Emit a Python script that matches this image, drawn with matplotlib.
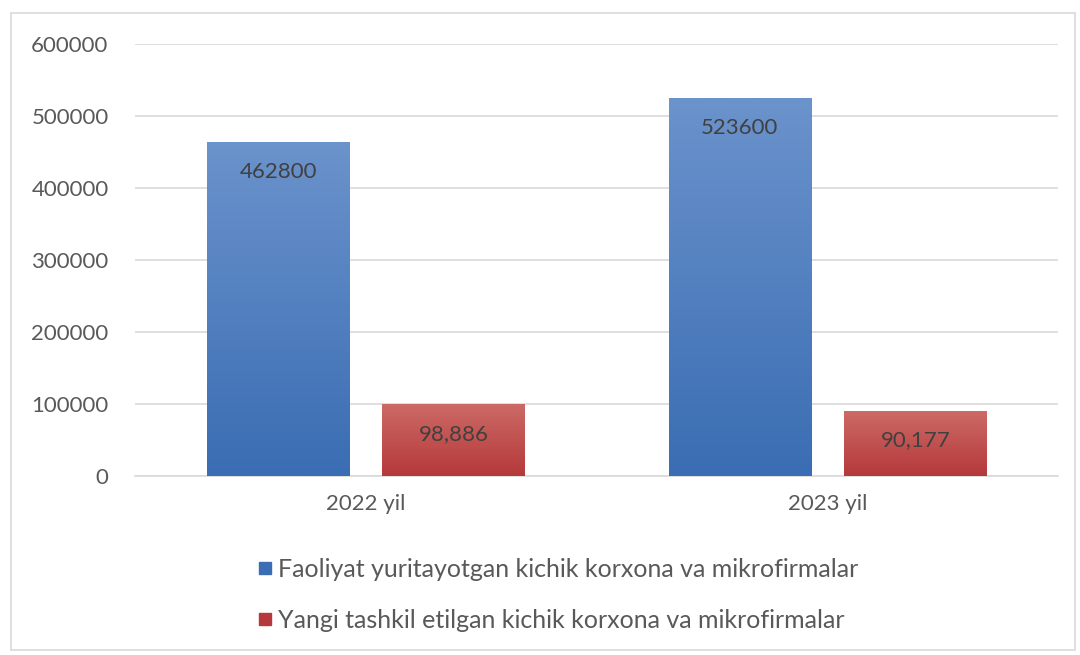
import matplotlib.pyplot as plt
import numpy as np
from matplotlib.colors import LinearSegmentedColormap
from matplotlib.lines import Line2D
from matplotlib.patches import Rectangle

categories = ["2022 yil", "2023 yil"]
series_names = [
    "Faoliyat yuritayotgan kichik korxona va mikrofirmalar",
    "Yangi tashkil etilgan kichik korxona va mikrofirmalar",
]
active_firms = [462800, 523600]
new_firms = [98886, 90177]
value_labels = [["462800", "523600"], ["98,886", "90,177"]]
y_ticks = [0, 100000, 200000, 300000, 400000, 500000, 600000]

plt.rcParams["font.family"] = ["Lato", "DejaVu Sans"]

fig = plt.figure(figsize=(10.8, 6.55), dpi=100)
ax = fig.add_axes([0.125, 0.273, 0.855, 0.66])

# outer chart frame
fig.patches.append(Rectangle((0.010, 0.008), 0.985, 0.972, transform=fig.transFigure,
                             fill=False, edgecolor="#d9d9d9", lw=1.2))

x = np.arange(len(categories))
width = 0.308
offset = 0.19
grads = [("#6b93cc", "#3a6db3"), ("#cc6a66", "#b5393a")]
for i, (vals, (c_top, c_bot)) in enumerate(zip([active_firms, new_firms], grads)):
    pos = x + (offset if i else -offset)
    bars = ax.bar(pos, vals, width, facecolor="none", edgecolor="none", zorder=3)
    cmap = LinearSegmentedColormap.from_list(f"g{i}", [c_bot, c_top])
    for b, txt in zip(bars, value_labels[i]):
        bx, by = b.get_x(), b.get_y()
        bw, bh = b.get_width(), b.get_height()
        ax.imshow(np.linspace(0, 1, 256).reshape(-1, 1), cmap=cmap, origin="lower",
                  extent=[bx, bx + bw, by, by + bh], aspect="auto", zorder=3,
                  clip_path=b, clip_on=True)
        ax.annotate(txt, (bx + bw / 2, by + bh), xytext=(0, -21), textcoords="offset points",
                    ha="center", va="center", fontsize=16, color="#404040", zorder=5)

ax.set_xlim(-0.5, 1.5)
ax.set_ylim(0, 600000)
ax.set_yticks(y_ticks)
ax.set_yticklabels([str(v) for v in y_ticks])
ax.set_xticks(x)
ax.set_xticklabels(categories)
ax.tick_params(axis="both", length=0, labelsize=16, colors="#595959")
ax.tick_params(axis="y", pad=19)
ax.tick_params(axis="x", pad=13)
ax.yaxis.grid(True, color="#d9d9d9", lw=1.2)
ax.set_axisbelow(True)
for s in ["top", "right", "left"]:
    ax.spines[s].set_visible(False)
ax.spines["bottom"].set_color("#d9d9d9")
ax.spines["bottom"].set_linewidth(1.2)

handles = [Line2D([], [], marker="s", ls="none", markersize=9, color=c[1]) for c in grads]
fig.legend(handles, series_names, loc="upper left", bbox_to_anchor=(0.226, 0.163),
           frameon=False, fontsize=18, labelcolor="#595959", labelspacing=1.1,
           handletextpad=0.05, handlelength=0.9, borderaxespad=0)

fig.savefig("out.png", dpi=100)
